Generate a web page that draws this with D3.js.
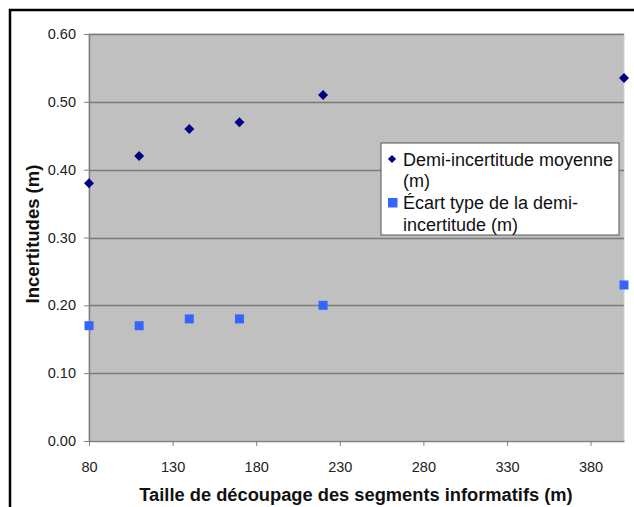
<!DOCTYPE html>
<html><head><meta charset="utf-8">
<script src="https://cdn.jsdelivr.net/npm/d3@7"></script>
<style>body{margin:0;background:#fff}svg{display:block}</style>
</head><body>
<svg id="c" width="634" height="507"></svg>
<script>
const xValues = [80, 110, 140, 170, 220, 400];
const meanHalfUncertainty = [0.38, 0.42, 0.46, 0.47, 0.51, 0.535];
const stdHalfUncertainty = [0.17, 0.17, 0.18, 0.18, 0.20, 0.23];
const xTicks = [80, 130, 180, 230, 280, 330, 380];
const yTicks = [0, 0.1, 0.2, 0.3, 0.4, 0.5, 0.6];
const seriesNames = ["Demi-incertitude moyenne", "(m)", "Écart type de la demi-", "incertitude (m)"];
const xTitle = "Taille de découpage des segments informatifs (m)";
const yTitle = "Incertitudes (m)";

const svg = d3.select("#c");
const font = "'Liberation Sans', Arial, sans-serif";
const L = 89, R = 624, T = 34, B = 441;

// outer frame
svg.append("rect").attr("x", 10).attr("y", 10).attr("width", 640).attr("height", 520)
  .attr("fill", "none").attr("stroke", "#000").attr("stroke-width", 2.5);

const x = d3.scaleLinear().domain([80, 400]).range([L, R]);
const y = d3.scaleLinear().domain([0, 0.6]).range([B, T]);

svg.append("rect").attr("x", L).attr("y", T).attr("width", R - L).attr("height", B - T)
  .attr("fill", "#c0c0c0").attr("stroke", "#d0d0d0").attr("stroke-width", 1);

// gridlines
svg.append("g").selectAll("line").data(yTicks.filter(d => d > 0)).join("line")
  .attr("x1", L).attr("x2", R).attr("y1", d => Math.round(y(d)) + 0.5).attr("y2", d => Math.round(y(d)) + 0.5)
  .attr("stroke", "#7a7a7a").attr("stroke-width", 1.5);

// y axis
const ya = svg.append("g").attr("transform", `translate(${L},0)`)
  .call(d3.axisLeft(y).tickValues(yTicks).tickFormat(d3.format(".2f")).tickSize(5).tickSizeOuter(0));
ya.select(".domain").attr("stroke", "#808080").attr("stroke-width", 1.5);
ya.selectAll(".tick line").attr("stroke", "#808080");
ya.selectAll("text").attr("font-family", font).attr("font-size", 14.5).attr("fill", "#222").attr("x", -13);

// x axis
const xa = svg.append("g").attr("transform", `translate(0,${B})`)
  .call(d3.axisBottom(x).tickValues(xTicks).tickFormat(d3.format("d")).tickSize(5).tickSizeOuter(0));
xa.select(".domain").attr("stroke", "#808080").attr("stroke-width", 1.5);
xa.selectAll(".tick line").attr("stroke", "#808080");
xa.selectAll("text").attr("font-family", font).attr("font-size", 14.5).attr("fill", "#222").attr("y", 20.5);

// titles
svg.append("text").attr("x", 356).attr("y", 501).attr("text-anchor", "middle")
  .attr("font-family", font).attr("font-weight", "bold").attr("font-size", 18.3).attr("fill", "#111").text(xTitle);
svg.append("text").attr("transform", `translate(38.5,234) rotate(-90)`).attr("text-anchor", "middle")
  .attr("font-family", font).attr("font-weight", "bold").attr("font-size", 18.5).attr("fill", "#111").text(yTitle);

// series
svg.append("g").selectAll("path").data(xValues.map((v, i) => [v, meanHalfUncertainty[i]])).join("path")
  .attr("d", d3.symbol().type(d3.symbolSquare).size(50))
  .attr("transform", d => `translate(${x(d[0])},${y(d[1])}) rotate(45)`)
  .attr("fill", "#000080");
svg.append("g").selectAll("rect").data(xValues.map((v, i) => [v, stdHalfUncertainty[i]])).join("rect")
  .attr("x", d => x(d[0]) - 4.5).attr("y", d => y(d[1]) - 4.5).attr("width", 9).attr("height", 9)
  .attr("fill", "#3366ff");

// legend
const lg = svg.append("g");
lg.append("rect").attr("x", 381).attr("y", 143).attr("width", 238).attr("height", 92)
  .attr("fill", "#fff").attr("stroke", "#555").attr("stroke-width", 1);
lg.append("path").attr("d", d3.symbol().type(d3.symbolSquare).size(34))
  .attr("transform", "translate(392,159) rotate(45)").attr("fill", "#000080");
lg.append("rect").attr("x", 388).attr("y", 198).attr("width", 9.5).attr("height", 9.5).attr("fill", "#3366ff");
lg.selectAll("text").data(seriesNames).join("text")
  .attr("x", 403).attr("y", (d, i) => 165.5 + i * 21.8)
  .attr("font-family", font).attr("font-size", 18).attr("fill", "#111").text(d => d);
</script>
</body></html>
